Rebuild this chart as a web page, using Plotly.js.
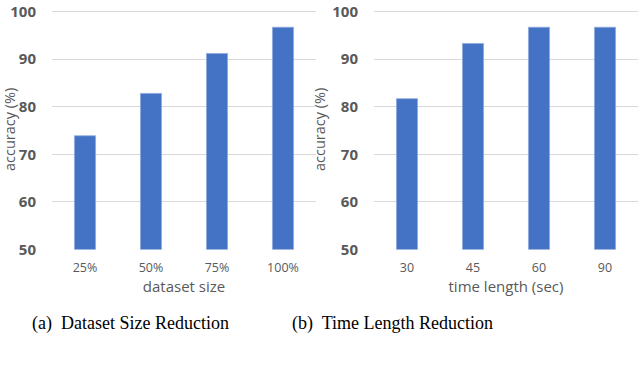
<!DOCTYPE html>
<html>
<head>
<meta charset="utf-8">
<script src="https://cdn.plot.ly/plotly-3.0.1.min.js"></script>
<style>
  html, body { margin: 0; padding: 0; background: #fff; }
  #chart { width: 640px; height: 370px; }
</style>
</head>
<body>
<div id="chart"></div>
<script>
// left panel: dataset size reduction
const sizeLabels = ['25%', '50%', '75%', '100%'];
const sizeAccuracy = [73.9, 82.8, 91.2, 96.7];

// right panel: time length reduction
const timeLabels = ['30', '45', '60', '90'];
const timeAccuracy = [81.7, 93.3, 96.7, 96.7];

const barColor = '#4472C4';
const textGrey = '#595959';
const uiFont = 'Open Sans, Lato, sans-serif';

function barTrace(x, y, xa, ya) {
    return {
        type: 'bar',
        x: x,
        y: y,
        xaxis: xa,
        yaxis: ya,
        marker: {
            color: barColor,
            line: { color: '#8faadc', width: 0.8 }
        },
        hoverinfo: 'x+y',
        showlegend: false
    };
}

const traces = [
    barTrace(sizeLabels, sizeAccuracy, 'x', 'y'),
    barTrace(timeLabels, timeAccuracy, 'x2', 'y2')
];

const H = 370, W = 640;
// range goes a bit past 100 so plotly keeps the top gridline (it drops lines within 1px of the edge)
const yDomain = [1 - 249.5 / H, 1 - 9.2 / H];

function xAxis(domain, anchor, title) {
    return {
        domain: domain,
        anchor: anchor,
        type: 'category',
        showgrid: false,
        showline: false,
        zeroline: false,
        ticks: '',
        ticklabelstandoff: 9,
        tickfont: { family: uiFont, size: 12.5, color: textGrey },
        title: {
            text: title,
            standoff: 4,
            font: { family: uiFont, size: 15, color: textGrey }
        },
        automargin: false
    };
}

function yAxis(domain, anchor) {
    return {
        domain: domain,
        anchor: anchor,
        range: [50, 100.5],
        tickvals: [50, 60, 70, 80, 90, 100],
        showgrid: true,
        gridcolor: '#d9d9d9',
        gridwidth: 1,
        showline: false,
        zeroline: false,
        ticks: '',
        ticklabelstandoff: 15,
        ticklabeloverflow: 'allow',
        tickfont: { family: uiFont, size: 15, color: textGrey, weight: 'bold' },
        title: {
            text: 'accuracy (%)',
            standoff: 3,
            font: { family: uiFont, size: 14.5, color: textGrey }
        },
        automargin: false
    };
}

const captionFont = { family: 'Liberation Serif, Times New Roman, serif', size: 18, color: '#000' };

const layout = {
    width: W,
    height: H,
    margin: { l: 0, r: 0, t: 0, b: 0 },
    paper_bgcolor: '#fff',
    plot_bgcolor: '#fff',
    bargap: 0.68,
    xaxis: xAxis([52 / W, 316 / W], 'y', 'dataset size'),
    yaxis: yAxis(yDomain, 'x'),
    xaxis2: xAxis([374 / W, 638 / W], 'y2', 'time length (sec)'),
    yaxis2: yAxis(yDomain, 'x2'),
    annotations: [
        {
            text: '(a)  Dataset Size Reduction',
            xref: 'paper', yref: 'paper',
            x: 130 / W, y: 1 - 323 / H,
            xanchor: 'center', yanchor: 'middle',
            showarrow: false,
            font: captionFont
        },
        {
            text: '(b)  Time Length Reduction',
            xref: 'paper', yref: 'paper',
            x: 392 / W, y: 1 - 323 / H,
            xanchor: 'center', yanchor: 'middle',
            showarrow: false,
            font: captionFont
        }
    ]
};

Plotly.newPlot('chart', traces, layout, { displayModeBar: false, staticPlot: true });
</script>
</body>
</html>
